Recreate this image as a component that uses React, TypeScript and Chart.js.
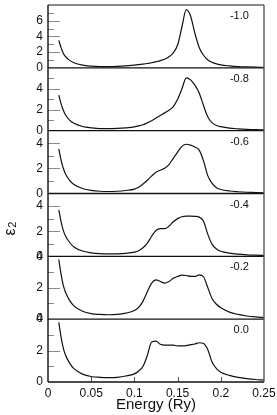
import { useEffect, useRef } from 'react';
import { Chart, registerables } from 'chart.js';

Chart.register(...registerables);

// ---- data ----
const energies = [
  0.0125, 0.015, 0.0175, 0.02, 0.025, 0.03, 0.04, 0.05, 0.06, 0.07, 0.08, 0.09,
  0.1, 0.105, 0.11, 0.115, 0.12, 0.125, 0.13, 0.135, 0.14, 0.145, 0.15, 0.155,
  0.16, 0.165, 0.17, 0.175, 0.18, 0.185, 0.19, 0.195, 0.2, 0.21, 0.22, 0.23, 0.24, 0.25,
];

const epsM10 = [
  3.5, 2.6, 1.9, 1.45, 0.95, 0.65, 0.35, 0.22, 0.16, 0.15, 0.18, 0.25,
  0.35, 0.4, 0.47, 0.55, 0.65, 0.78, 0.92, 1.1, 1.4, 1.9, 2.9, 5.2,
  7.4, 6.6, 4.4, 2.6, 1.6, 1.0, 0.7, 0.5, 0.38, 0.25, 0.16, 0.11, 0.08, 0.06,
];
const epsM08 = [
  3.4, 2.6, 2.0, 1.55, 1.0, 0.7, 0.4, 0.27, 0.2, 0.2, 0.22, 0.27,
  0.36, 0.45, 0.57, 0.75, 0.95, 1.2, 1.45, 1.7, 1.95, 2.3, 3.0, 4.0,
  5.05, 4.85, 4.35, 3.6, 2.4, 1.3, 0.75, 0.5, 0.38, 0.24, 0.17, 0.12, 0.09, 0.07,
];
const epsM06 = [
  3.55, 2.7, 2.05, 1.6, 1.05, 0.72, 0.4, 0.25, 0.18, 0.16, 0.18, 0.24,
  0.35, 0.5, 0.75, 1.05, 1.4, 1.7, 1.85, 2.0, 2.3, 2.8, 3.3, 3.75,
  3.92, 3.85, 3.7, 3.45, 2.6, 1.4, 0.8, 0.45, 0.32, 0.2, 0.14, 0.1, 0.08, 0.06,
];
const epsM04 = [
  3.7, 2.8, 2.1, 1.65, 1.1, 0.75, 0.42, 0.28, 0.21, 0.19, 0.2, 0.24,
  0.33, 0.45, 0.68, 1.05, 1.6, 2.05, 2.2, 2.2, 2.4, 2.75, 3.0, 3.15,
  3.2, 3.2, 3.18, 3.12, 2.8, 1.75, 0.95, 0.58, 0.4, 0.25, 0.17, 0.12, 0.09, 0.07,
];
const epsM02 = [
  3.8, 2.9, 2.2, 1.75, 1.2, 0.85, 0.5, 0.35, 0.3, 0.28, 0.3, 0.38,
  0.55, 0.75, 1.15, 1.75, 2.3, 2.5, 2.4, 2.3, 2.4, 2.6, 2.72, 2.8,
  2.78, 2.72, 2.72, 2.82, 2.7, 2.0, 1.3, 0.95, 0.72, 0.45, 0.3, 0.2, 0.14, 0.1,
];
const eps00 = [
  3.8, 2.9, 2.2, 1.75, 1.2, 0.85, 0.5, 0.35, 0.3, 0.28, 0.3, 0.38,
  0.52, 0.7, 1.0, 1.7, 2.55, 2.6, 2.4, 2.35, 2.35, 2.35, 2.3, 2.3,
  2.32, 2.38, 2.42, 2.5, 2.45, 2.05, 1.25, 0.85, 0.62, 0.42, 0.3, 0.22, 0.16, 0.12,
];

const panelSeries = [epsM10, epsM08, epsM06, epsM04, epsM02, eps00];
const panelLabels = ['-1.0', '-0.8', '-0.6', '-0.4', '-0.2', '0.0'];
const yMax = [8, 6, 5, 5, 4, 4];
const yTickLabels = [
  [0, 2, 4, 6],
  [0, 2, 4],
  [0, 2, 4],
  [0, 2, 4],
  [0, 2, 4],
  [0, 2, 4],
];
const xMin = 0;
const xMax = 0.25;
const xStep = 0.05;
const xTitle = 'Energy (Ry)';
const yTitleMain = 'ε';
const yTitleSub = '2';

const FONT = "'Liberation Sans', Arial, sans-serif";

const framePlugin = {
  id: 'frame',
  afterDatasetsDraw(chart: any) {
    const { ctx, chartArea: a, scales } = chart;
    ctx.save();
    const seg = (x1: number, y1: number, x2: number, y2: number) => {
      ctx.beginPath();
      ctx.moveTo(x1, y1);
      ctx.lineTo(x2, y2);
      ctx.stroke();
    };
    // y minor / major ticks (inward)
    ctx.strokeStyle = '#8a8a8a';
    ctx.lineWidth = 1;
    for (let i = 0; i < panelSeries.length; i++) {
      const s = scales['y' + i];
      s.ticks.forEach((t: any) => {
        const v = t.value;
        if (v <= 0 || v >= yMax[i]) return;
        const y = Math.round(s.getPixelForValue(v)) + 0.5;
        const len = v % 2 === 0 ? 12 : 6;
        seg(a.left, y, a.left + len, y);
      });
    }
    // x ticks (inward)
    const xs = scales.x;
    ctx.strokeStyle = '#555';
    xs.ticks.forEach((t: any) => {
      if (t.value <= xMin + 1e-9 || t.value >= xMax - 1e-9) return;
      const x = Math.round(xs.getPixelForValue(t.value)) + 0.5;
      seg(x, a.bottom, x, a.bottom - 5);
    });
    // panel separators (zero lines)
    ctx.strokeStyle = '#111';
    ctx.lineWidth = 1.4;
    for (let i = 0; i < panelSeries.length; i++) {
      const s = scales['y' + i];
      const y = s.getPixelForValue(0);
      seg(a.left, y, a.right, y);
    }
    // top border
    ctx.strokeStyle = '#8a8a8a';
    ctx.lineWidth = 1.8;
    seg(a.left, a.top, a.right, a.top);
    // right border
    ctx.strokeStyle = '#555';
    ctx.lineWidth = 1.4;
    seg(a.right, a.top, a.right, a.bottom);
    // left border
    ctx.strokeStyle = '#111';
    ctx.lineWidth = 1.4;
    seg(a.left, a.top, a.left, a.bottom);

    // panel labels
    ctx.fillStyle = '#111';
    ctx.font = `11px ${FONT}`;
    ctx.textAlign = 'right';
    ctx.textBaseline = 'middle';
    for (let i = 0; i < panelSeries.length; i++) {
      const s = scales['y' + i];
      ctx.fillText(panelLabels[i], a.left + (a.right - a.left) * 0.93, s.top + 11);
    }

    // y title ε2 (rotated)
    const midY = (a.top + a.bottom) / 2;
    ctx.translate(15, midY + 42);
    ctx.rotate(-Math.PI / 2);
    ctx.textAlign = 'left';
    ctx.textBaseline = 'alphabetic';
    ctx.font = `16px ${FONT}`;
    ctx.fillText(yTitleMain, 0, 0);
    const w = ctx.measureText(yTitleMain).width;
    ctx.font = `11px ${FONT}`;
    ctx.fillText(yTitleSub, w + 0.5, 1);
    ctx.restore();
  },
};

export default function App() {
  const ref = useRef<HTMLCanvasElement | null>(null);
  useEffect(() => {
    if (!ref.current) return;
    const datasets = panelSeries.map((vals, i) => ({
      label: panelLabels[i],
      data: energies.map((e, k) => ({ x: e, y: vals[k] })),
      yAxisID: 'y' + i,
      borderColor: '#111',
      borderWidth: 1.2,
      pointRadius: 0,
      fill: false,
      cubicInterpolationMode: 'monotone' as const,
    }));

    const scales: any = {
      x: {
        type: 'linear',
        position: 'bottom',
        min: xMin,
        max: xMax,
        grid: { display: false, drawTicks: false },
        border: { display: false },
        ticks: {
          stepSize: xStep,
          color: '#111',
          padding: 4,
          maxRotation: 0,
          autoSkip: false,
          font: { family: FONT, size: 12 },
          callback: (v: any) => String(+Number(v).toFixed(2)),
        },
        title: {
          display: true,
          text: xTitle,
          color: '#111',
          font: { family: FONT, size: 15 },
          padding: { top: 0, bottom: 1 },
        },
        afterFit: (s: any) => {
          s.height = 33;
          s.paddingLeft = 0;
          s.paddingRight = 0;
        },
      },
    };
    // define in reverse so the first panel ends at the top of the stack
    for (let i = panelSeries.length - 1; i >= 0; i--) {
      const labels = yTickLabels[i];
      scales['y' + i] = {
        type: 'linear',
        position: 'left',
        stack: 'panels',
        stackWeight: 1,
        min: 0,
        max: yMax[i],
        grid: { display: false, drawTicks: false },
        border: { display: false },
        ticks: {
          stepSize: 1,
          autoSkip: false,
          color: '#111',
          padding: 5,
          font: { family: FONT, size: 12 },
          callback: (v: any) => (labels.includes(Number(v)) ? String(v) : ''),
        },
        afterFit: (s: any) => {
          s.width = 48;
          s.paddingTop = 0;
          s.paddingBottom = 0;
        },
      };
    }

    const chart = new Chart(ref.current, {
      type: 'line',
      data: { datasets },
      options: {
        animation: false,
        responsive: false,
        maintainAspectRatio: false,
        layout: { padding: { top: 5, right: 13, left: 0, bottom: 0 } },
        plugins: {
          legend: { display: false },
          tooltip: { enabled: false },
        },
        scales,
      },
      plugins: [framePlugin],
    });
    return () => chart.destroy();
  }, []);

  return (
    <div style={{ position: 'absolute', left: 0, top: 0, width: 277, height: 415, background: '#fff' }}>
      <canvas ref={ref} width={277} height={415} style={{ display: 'block' }} />
    </div>
  );
}
